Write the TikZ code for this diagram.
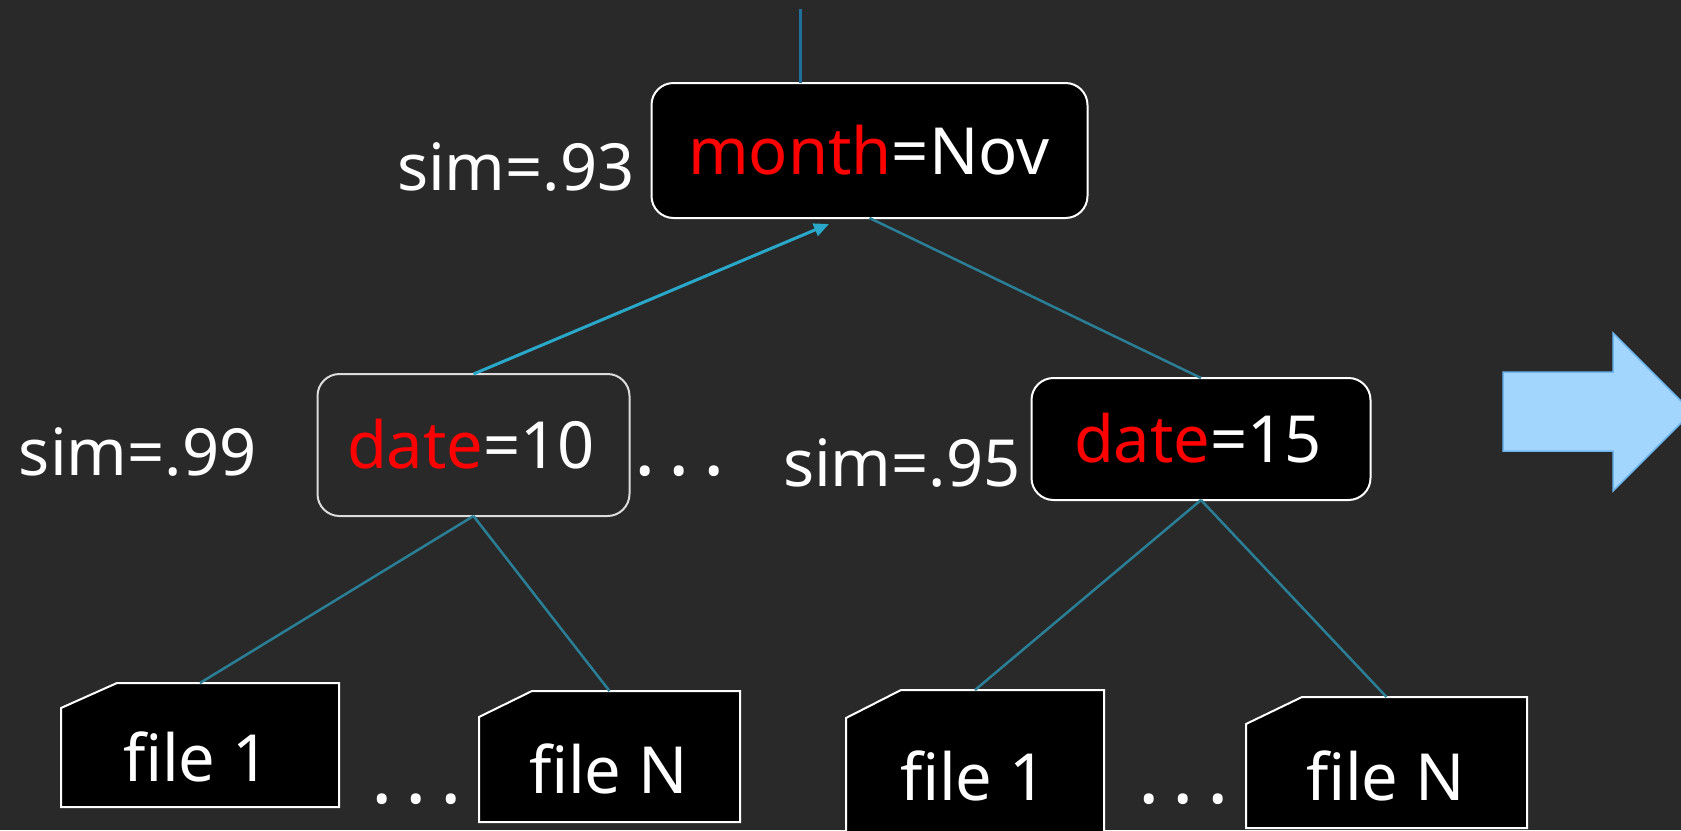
\documentclass[tikz,border=0pt]{standalone}
\usepackage{fontspec}
\setmainfont{Noto Sans}
\usetikzlibrary{calc,arrows.meta}
\definecolor{bg}{HTML}{292929}
\definecolor{teal}{HTML}{2A7E95}
\definecolor{topblue}{HTML}{1F6E9C}
\definecolor{arrowcyan}{HTML}{29A8CA}
\definecolor{bigfill}{HTML}{A3D6FD}
\definecolor{bigline}{HTML}{6CB4EE}
\definecolor{keyred}{HTML}{FF0000}
\definecolor{softwhite}{HTML}{DCDCDC}
\newcommand{\chamferfile}[3]{%
  \path[fileshape] (#1.south west) -- ([yshift=-#3]#1.north west) -- ([xshift=#2]#1.north west) -- (#1.north east) -- (#1.south east) -- cycle;}
\begin{document}
\begin{tikzpicture}[x=1pt,y=-1pt,
  lbl/.style={inner sep=0pt, outer sep=0pt, text=white, font=\fontsize{65}{78}\selectfont, anchor=base west},
  dotlbl/.style={lbl, font=\fontsize{80}{90}\selectfont\bfseries},
  keybox/.style={draw=white, line width=2pt, fill=black, rounded corners=22pt, inner sep=0pt, outer sep=0pt},
  openbox/.style={draw=softwhite, line width=2pt, rounded corners=22pt, inner sep=0pt, outer sep=0pt},
  filenode/.style={inner sep=0pt, outer sep=0pt},
  fileshape/.style={draw=white, line width=2pt, fill=black},
  treeline/.style={draw=teal, line width=2.5pt},
  upline/.style={draw=arrowcyan, line width=3pt, -{Triangle[length=15pt,width=13pt]}},
  rootline/.style={draw=topblue, line width=3pt},
  bigarrow/.style={fill=bigfill, draw=bigline, line width=1.5pt}]
\useasboundingbox[fill=bg] (0,0) rectangle (1681,830);
\clip (0,0) rectangle (1681,830);

% boxes
\node[keybox, minimum width=436pt, minimum height=135pt] (m) at (869.5,150.5) {};
\node[openbox, minimum width=312pt, minimum height=142pt] (d10) at (473.5,445) {};
\node[keybox, minimum width=339pt, minimum height=122pt] (d15) at (1201,439) {};

% file boxes (bounding nodes) and their chamfered outlines
\node[filenode, minimum width=278pt, minimum height=124pt] (fa) at (200,745) {};
\node[filenode, minimum width=261pt, minimum height=131pt] (fb) at (609.5,756.5) {};
\node[filenode, minimum width=258pt, minimum height=160pt] (fc) at (975,770) {};
\node[filenode, minimum width=281pt, minimum height=131pt] (fd) at (1386.5,762.5) {};
\chamferfile{fa}{56pt}{25pt}
\chamferfile{fb}{53pt}{26pt}
\chamferfile{fc}{55pt}{28pt}
\chamferfile{fd}{56pt}{27pt}

% texts
\node[lbl] (s93) at (397,190) {sim=.93};
\node[lbl] (tm) at (688,174) {\textcolor{keyred}{month}=Nov};
\node[lbl] (s99) at (19,475) {sim=.99};
\node[lbl] (t10) at (347,468) {\textcolor{keyred}{date}=10};
\node[dotlbl] (dm) at (634,475) {.\,.\,.};
\node[lbl] (s95) at (783,486) {sim=.95};
\node[lbl] (t15) at (1074,462) {\textcolor{keyred}{date}=15};
\node[lbl] (ta) at (123,781) {file 1};
\node[lbl] (tb) at (529,793) {file N};
\node[dotlbl] (da) at (371,803) {.\,.\,.};
\node[lbl] (tc) at (900,800) {file 1};
\node[lbl] (td) at (1306,800) {file N};
\node[dotlbl] (db) at (1138,803) {.\,.\,.};

% connectors
\coordinate (root) at (800,9);
\coordinate (tipm) at (829,224);
\draw[rootline] (root) -- (root |- m.north);
\draw[upline] (d10.north) -- (tipm);
\draw[treeline] (m.south) -- (d15.north);
\draw[treeline] (d10.south) -- (fa.north);
\draw[treeline] (d10.south) -- (fb.north);
\draw[treeline] (d15.south) -- (fc.north);
\draw[treeline] (d15.south) -- (fd.north);

% big arrow
\path[bigarrow] (1503,372) -- (1613,372) -- (1613,333) -- (1692,412) -- (1613,491) -- (1613,451) -- (1503,451) -- cycle;
\end{tikzpicture}
\end{document}
